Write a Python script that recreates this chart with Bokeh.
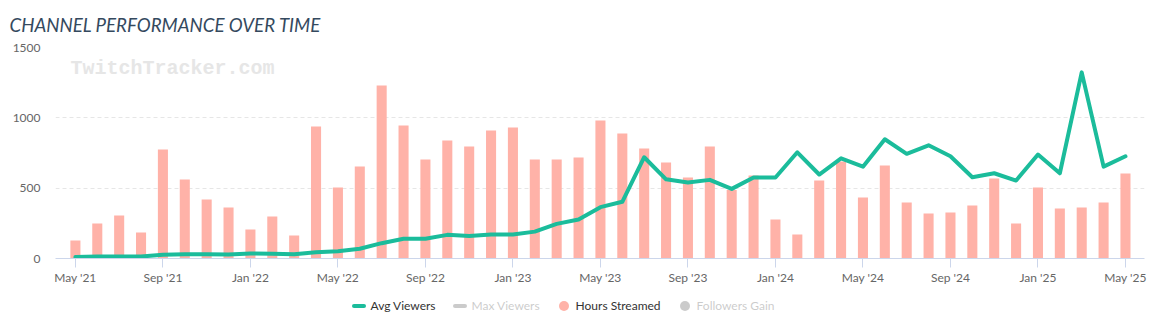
from bokeh.plotting import figure
from bokeh.layouts import column
from bokeh.models import (ColumnDataSource, Range1d, FixedTicker, Legend, LegendItem, Label)
from bokeh.embed import file_html
from bokeh.resources import INLINE

# ---- data ----
hours_streamed = [128, 249, 306, 185, 775, 561, 419, 362,
                  206, 298, 163, 938, 505, 654, 1230, 945, 704, 839, 796, 910,
                  931, 704, 704, 718, 981, 888, 782, 682, 576, 796, 487, 590,
                  277, 170, 554, 690, 434, 661, 398, 320, 327, 377, 569, 249,
                  505, 355, 362, 398, 604]
avg_viewers = [10, 14, 15, 15, 26, 30, 30, 28,
               36, 34, 31, 45, 52, 69, 109, 140, 140, 168, 160, 170,
               170, 191, 246, 277, 365, 403, 720, 563, 540, 559, 495, 576,
               576, 755, 597, 712, 653, 848, 744, 805, 727, 578, 606, 554,
               739, 606, 1323, 653, 727]
month_index = list(range(len(hours_streamed)))
tick_positions = [0, 4, 8, 12, 16, 20, 24, 28, 32, 36, 40, 44, 48]
tick_labels = ["May '21", "Sep '21", "Jan '22", "May '22", "Sep '22", "Jan '23",
               "May '23", "Sep '23", "Jan '24", "May '24", "Sep '24", "Jan '25", "May '25"]
y_ticks = [0, 500, 1000, 1500]
legend_names = ["Avg Viewers", "Max Viewers", "Hours Streamed", "Followers Gain"]

GREEN = "#1bbc9b"
SALMON = "#ffb2a8"
FONT = "Lato"

src = ColumnDataSource(dict(x=month_index, hours=hours_streamed, avg=avg_viewers))

p = figure(width=1169, height=290, output_backend="svg", toolbar_location=None,
           x_range=Range1d(-0.91, 48.87), y_range=Range1d(0, 1500),
           min_border_left=55, min_border_right=25, min_border_top=47, min_border_bottom=32)
p.outline_line_color = None
p.background_fill_color = "white"
p.border_fill_color = "white"

# title
p.title.text = "CHANNEL PERFORMANCE OVER TIME"
p.title.text_font = FONT
p.title.text_font_style = "italic"
p.title.text_font_size = "18.7px"
p.title.text_color = "#34495e"
p.title.align = "left"
p.title.vertical_align = "top"
p.title.offset = -46
p.title.standoff = 20

bars = p.vbar(x="x", top="hours", width=0.46, source=src, color=SALMON, line_color=None)
line = p.line(x="x", y="avg", source=src, line_color=GREEN, line_width=4,
              line_join="round", line_cap="round")

# axes
xa = p.xaxis[0]
xa.ticker = FixedTicker(ticks=tick_positions)
xa.major_label_overrides = {t: l for t, l in zip(tick_positions, tick_labels)}
xa.axis_line_color = "#ccd6eb"
xa.major_tick_line_color = "#ccd6eb"
xa.major_tick_out = 9
xa.major_tick_in = 0
xa.minor_tick_line_color = None
xa.major_label_text_font = FONT
xa.major_label_text_font_size = "12px"
xa.major_label_text_color = "#666666"
xa.major_label_standoff = 2

ya = p.yaxis[0]
ya.ticker = FixedTicker(ticks=y_ticks)
ya.axis_line_color = None
ya.major_tick_line_color = None
ya.minor_tick_line_color = None
ya.major_tick_out = 0
ya.major_label_standoff = 15
ya.major_label_text_font = FONT
ya.major_label_text_font_size = "12px"
ya.major_label_text_color = "#666666"

p.xgrid.grid_line_color = None
p.ygrid.ticker = FixedTicker(ticks=y_ticks[1:])
p.ygrid.grid_line_color = "#e6e6e6"
p.ygrid.grid_line_dash = "4 3"

# watermark
p.add_layout(Label(x=15, y=190, x_units="screen", y_units="screen", text="TwitchTracker.com",
                   text_font="Liberation Mono", text_font_style="bold", text_font_size="20px",
                   text_color="#e6e6e6", text_baseline="middle", level="underlay"))

# ---- legend strip ----
lp = figure(width=1169, height=36, output_backend="svg", toolbar_location=None,
            x_range=Range1d(0, 1), y_range=Range1d(0, 1), x_axis_type=None, y_axis_type=None,
            min_border=0)
lp.outline_line_color = None
lp.xgrid.grid_line_color = None
lp.ygrid.grid_line_color = None
lp.border_fill_color = "white"

# legend-key helpers: one point kept outside the strip's visible range
key_src = ColumnDataSource(dict(x=[-10], y=[-10]))
avg_key = lp.scatter(x="x", y="y", source=key_src, marker="dash", line_color=GREEN,
                     line_width=4, line_cap="round")
max_key = lp.scatter(x="x", y="y", source=key_src, marker="dash", line_color="#333333",
                     line_width=4, line_cap="round", visible=False)
hours_key = lp.scatter(x="x", y="y", source=key_src, marker="circle", fill_color=SALMON,
                       line_color=None)
foll_key = lp.scatter(x="x", y="y", source=key_src, marker="circle", fill_color="#333333",
                      line_color=None, visible=False)

legend = Legend(items=[LegendItem(label=legend_names[0], renderers=[avg_key]),
                       LegendItem(label=legend_names[1], renderers=[max_key]),
                       LegendItem(label=legend_names[2], renderers=[hours_key]),
                       LegendItem(label=legend_names[3], renderers=[foll_key])],
                location=(290.5, 8.5), orientation="horizontal",
                glyph_width=25, glyph_height=25, label_height=12, label_standoff=0,
                spacing=11, padding=0, margin=0, border_line_color=None,
                background_fill_alpha=0, click_policy="hide",
                inactive_fill_color="white", inactive_fill_alpha=0.75,
                label_text_font=FONT, label_text_font_size="12px",
                label_text_color="#333333")
lp.add_layout(legend, "center")

layout = column(p, lp, spacing=0)
open("out.html", "w").write(file_html(layout, INLINE))
